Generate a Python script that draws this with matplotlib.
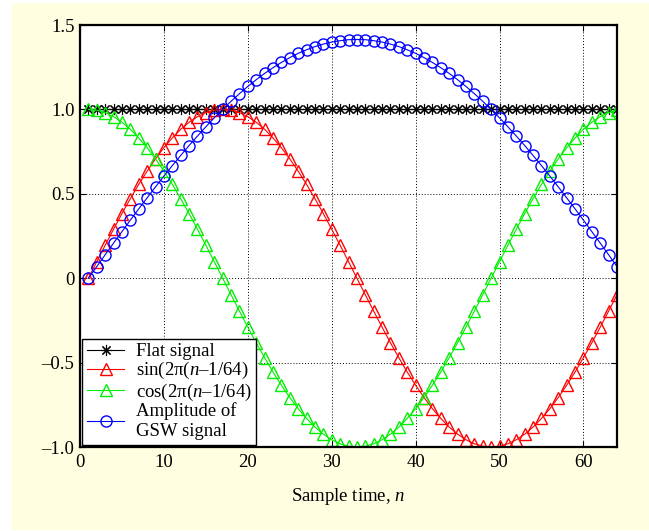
import numpy as np
import matplotlib
matplotlib.use("Agg")
import matplotlib.pyplot as plt
from matplotlib.patches import Rectangle

plt.rcParams['font.family'] = ['Liberation Serif', 'DejaVu Serif']
plt.rcParams['mathtext.fontset'] = 'custom'
plt.rcParams['mathtext.rm'] = 'Liberation Serif'
plt.rcParams['mathtext.it'] = 'Liberation Serif:italic'

# sample index n = 1..64
n = np.arange(1, 65)

flat = [1.0] * 64

sin_sig = [0.000, 0.098, 0.195, 0.290, 0.383, 0.471, 0.556, 0.634,
           0.707, 0.773, 0.831, 0.882, 0.924, 0.957, 0.981, 0.995,
           1.000, 0.995, 0.981, 0.957, 0.924, 0.882, 0.831, 0.773,
           0.707, 0.634, 0.556, 0.471, 0.383, 0.290, 0.195, 0.098,
           0.000, -0.098, -0.195, -0.290, -0.383, -0.471, -0.556, -0.634,
           -0.707, -0.773, -0.831, -0.882, -0.924, -0.957, -0.981, -0.995,
           -1.000, -0.995, -0.981, -0.957, -0.924, -0.882, -0.831, -0.773,
           -0.707, -0.634, -0.556, -0.471, -0.383, -0.290, -0.195, -0.098]

cos_sig = [1.000, 0.995, 0.981, 0.957, 0.924, 0.882, 0.831, 0.773,
           0.707, 0.634, 0.556, 0.471, 0.383, 0.290, 0.195, 0.098,
           0.000, -0.098, -0.195, -0.290, -0.383, -0.471, -0.556, -0.634,
           -0.707, -0.773, -0.831, -0.882, -0.924, -0.957, -0.981, -0.995,
           -1.000, -0.995, -0.981, -0.957, -0.924, -0.882, -0.831, -0.773,
           -0.707, -0.634, -0.556, -0.471, -0.383, -0.290, -0.195, -0.098,
           0.000, 0.098, 0.195, 0.290, 0.383, 0.471, 0.556, 0.634,
           0.707, 0.773, 0.831, 0.882, 0.924, 0.957, 0.981, 0.995]

gsw_amp = [0.000, 0.069, 0.139, 0.208, 0.276, 0.344, 0.411, 0.476,
           0.541, 0.605, 0.667, 0.727, 0.786, 0.842, 0.897, 0.950,
           1.000, 1.048, 1.093, 1.136, 1.176, 1.213, 1.247, 1.278,
           1.307, 1.332, 1.353, 1.372, 1.387, 1.399, 1.407, 1.413,
           1.414, 1.413, 1.407, 1.399, 1.387, 1.372, 1.353, 1.332,
           1.307, 1.278, 1.247, 1.213, 1.176, 1.136, 1.093, 1.048,
           1.000, 0.950, 0.897, 0.842, 0.786, 0.727, 0.667, 0.605,
           0.541, 0.476, 0.411, 0.344, 0.276, 0.208, 0.139, 0.069]

xticks = [0, 10, 20, 30, 40, 50, 60]
yticks = [-1.0, -0.5, 0, 0.5, 1.0, 1.5]
ytick_labels = ['\u20131.0', '\u20130.5', '0', '0.5', '1.0', '1.5']

fig = plt.figure(figsize=(6.49, 5.31), dpi=100, facecolor='white')
# pale yellow panel behind the axes
fig.add_artist(Rectangle((12 / 649, 1 / 531), 1, 527 / 531,
                         transform=fig.transFigure, facecolor='#FFFEE0',
                         edgecolor='none', zorder=-10))

ax = fig.add_axes([80 / 649, 1 - 447 / 531, 537 / 649, 422 / 531])
ax.set_facecolor('white')

ax.plot(n, flat, color='black', lw=0.8, marker=(8, 2, 0), ms=8, mew=0.8,
        label='Flat signal')
ax.plot(n, sin_sig, color='red', lw=0.8, marker='^', ms=8.5, mfc='none', mew=1.0,
        label='sin(2\u03c0($\\mathit{n}$\u20131/64)')
ax.plot(n, cos_sig, color='#00ee00', lw=0.8, marker='^', ms=8.5, mfc='none', mew=1.0,
        label='cos(2\u03c0($\\mathit{n}$\u20131/64)')
ax.plot(n, gsw_amp, color='blue', lw=0.8, marker='o', ms=8, mfc='none', mew=1.0,
        label='Amplitude of\nGSW signal')

ax.set_xlim(0, 64)
ax.set_ylim(-1.0, 1.5)
ax.set_xticks(xticks)
ax.set_yticks(yticks)
ax.set_yticklabels(ytick_labels)
ax.tick_params(direction='in', top=True, right=True, labelsize=13.5, length=4,
               width=0.8)
ax.tick_params(axis='x', pad=5)
ax.tick_params(axis='y', pad=4)
ax.grid(True, linestyle=(0, (1, 2)), color='black', lw=0.7)
for s in ax.spines.values():
    s.set_linewidth(1.6)

ax.set_xlabel('Sample time, $\\mathit{n}$', fontsize=13.5, labelpad=11)

leg = ax.legend(loc='lower left', fontsize=13.5, fancybox=False, framealpha=1,
                edgecolor='black', borderaxespad=0.12, handlelength=2.0,
                labelspacing=0.0, borderpad=0.25, handletextpad=0.6)
leg.get_frame().set_linewidth(1.0)

fig.savefig('out.png', dpi=100, facecolor=fig.get_facecolor())
